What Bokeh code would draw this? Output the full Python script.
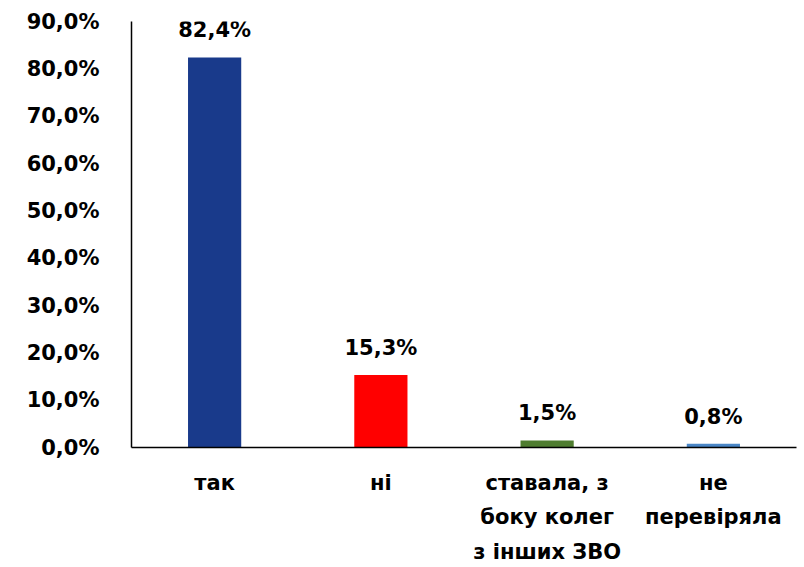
from bokeh.plotting import figure
from bokeh.models import ColumnDataSource, LabelSet, Range1d, FixedTicker, FactorRange
from bokeh.core.properties import value
from bokeh.embed import file_html
from bokeh.resources import INLINE

categories = ["так", "ні", "ставала, з\nбоку колег\nз інших ЗВО", "не\nперевіряла"]
values = [82.4, 15.3, 1.5, 0.8]
colors = ["#193a8b", "#ff0000", "#4f7d30", "#4a86c6"]
tick_values = [0, 10, 20, 30, 40, 50, 60, 70, 80, 90]
tick_labels = ["0,0%", "10,0%", "20,0%", "30,0%", "40,0%", "50,0%", "60,0%", "70,0%", "80,0%", "90,0%"]
value_labels = [f"{v:.1f}%".replace(".", ",") for v in values]

FONT = "DejaVu Sans"

src = ColumnDataSource(dict(cat=categories, val=values, color=colors, lab=value_labels))

p = figure(x_range=FactorRange(*categories), y_range=Range1d(0, 90),
           width=804, height=567, output_backend="svg", toolbar_location=None,
           min_border_left=131, min_border_right=8, min_border_top=21, min_border_bottom=117)
p.outline_line_color = None
p.xgrid.grid_line_color = None
p.ygrid.grid_line_color = None

p.vbar(x="cat", top="val", width=0.32, color="color", source=src, line_color=None)

labels = LabelSet(x="cat", y="val", text="lab", source=src, text_align="center",
                  text_baseline="alphabetic", y_offset=20, text_font=value(FONT),
                  text_font_style="bold", text_font_size="21px", text_color="black")
p.add_layout(labels)

p.yaxis.ticker = FixedTicker(ticks=tick_values)
p.yaxis.major_label_overrides = {v: l for v, l in zip(tick_values, tick_labels)}
p.yaxis.major_tick_line_color = None
p.yaxis.minor_tick_line_color = None
p.yaxis.major_label_text_font = FONT
p.yaxis.major_label_text_font_style = "bold"
p.yaxis.major_label_text_font_size = "21px"
p.yaxis.major_label_text_color = "black"
p.yaxis.major_label_standoff = 26
p.yaxis.axis_line_color = "black"
p.yaxis.axis_line_width = 1.5

p.xaxis.major_tick_line_color = None
p.xaxis.major_label_text_font = FONT
p.xaxis.major_label_text_font_style = "bold"
p.xaxis.major_label_text_font_size = "21px"
p.xaxis.major_label_text_color = "black"
p.xaxis.major_label_text_line_height = 1.45
p.xaxis.major_label_standoff = 17
p.xaxis.axis_line_color = "black"
p.xaxis.axis_line_width = 1.5
p.x_range.range_padding = 0
p.x_range.group_padding = 0
p.x_range.factor_padding = 0

open("out.html", "w").write(file_html(p, INLINE))
